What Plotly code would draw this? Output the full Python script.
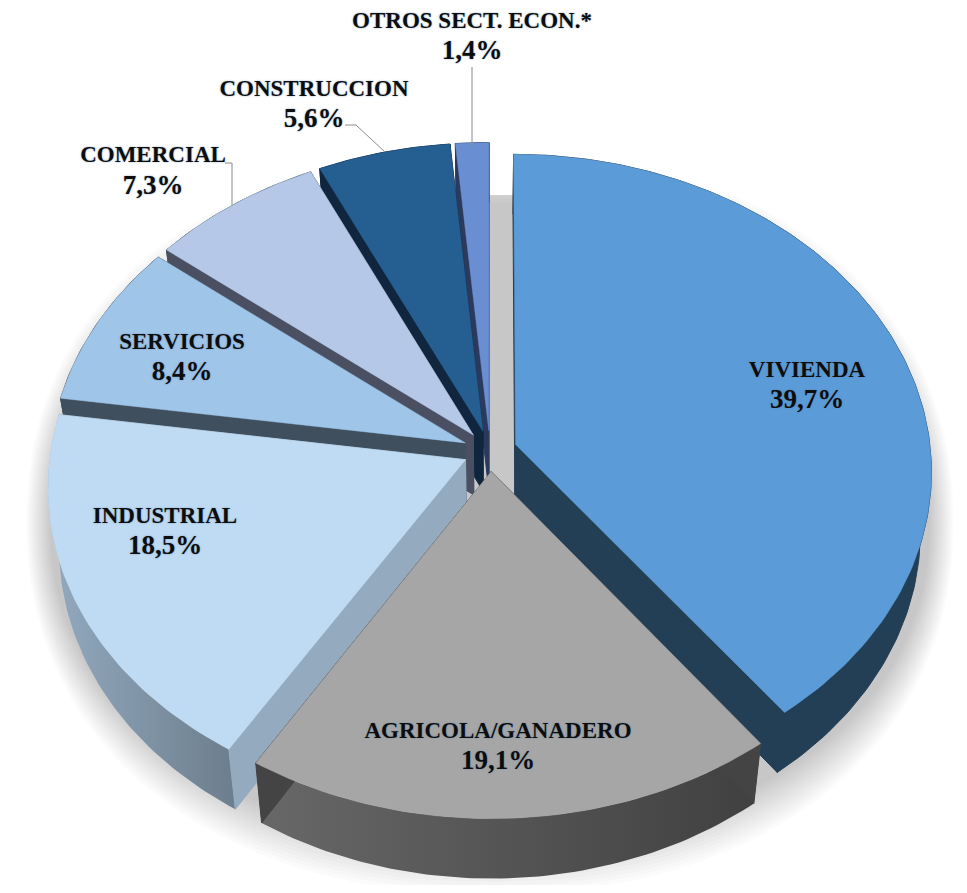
import numpy as np
import plotly.graph_objects as go

categories = ["VIVIENDA", "AGRICOLA/GANADERO", "INDUSTRIAL", "SERVICIOS", "COMERCIAL", "CONSTRUCCION", "OTROS SECT. ECON.*"]
shares = [39.7, 19.1, 18.5, 8.4, 7.3, 5.6, 1.4]
value_labels = ["39,7%", "19,1%", "18,5%", "8,4%", "7,3%", "5,6%", "1,4%"]

top_colors = ["#5b9bd7", "#a6a6a6", "#bfdbf3", "#9fc5e9", "#b5c8e8", "#255f92", "#6a8ed2"]
side_colors = ["#233f56", "#444444", "#93aabf", "#3f4f5e", "#4a5062", "#10263e", "#2b3a5c"]
rim_left = ["#233f56", "#686868", "#93aabf", "#3f4f5e", "#4a5062", "#10263e", "#2b3a5c"]
rim_right = ["#233f56", "#404040", "#6c7e8d", "#3f4f5e", "#4a5062", "#10263e", "#2b3a5c"]
draw_order = [6, 5, 4, 3, 2, 0, 1]
label_x = [807, 498, 165, 182, 153, 314, 472]
name_y = [371, 732, 517, 343, 156, 90, 22]
value_y = [401, 762, 547, 373, 187, 120, 52]
leader_x = [[345, 356, 385], [225, 232, 232], [472, 472]]
leader_y = [[125, 125, 152], [163, 163, 205], [67, 146]]

CX, CY, RX, RY, K = 490.0, 451.0, 415.0, 315.0, 0.082
EXPLODE, DEPTH, SHRINK = 0.065, 60.0, 0.975


def project(u, v, bottom=False):
    u, v = np.asarray(u, float), np.asarray(v, float)
    s = 1 / (1 - K * v)
    x = CX + RX * u * s
    y = CY + RY * v * s
    if bottom:
        x = CX + (x - CX) * SHRINK
        y = y + DEPTH
    return x, y


def poly(x, y, color=None, grad=None, width=0.5):
    kw = dict(x=np.r_[x, x[0]], y=np.r_[y, y[0]], mode="lines", fill="toself",
              line=dict(width=width, color=color or grad[0]), hoverinfo="skip", showlegend=False)
    if grad:
        kw["fillgradient"] = dict(type="horizontal", colorscale=[[0, grad[0]], [1, grad[1]]])
        kw["line"] = dict(width=0)
    else:
        kw["fillcolor"] = color
    return go.Scatter(**kw)


fig = go.Figure()

# soft ground shadow
t = np.linspace(0, 2 * np.pi, 240)
layers = np.linspace(30, -22, 14)
for g in layers:
    sx = 490 + (450 + 0.45 * g) * np.sin(t) * np.abs(np.sin(t)) ** -0.08
    sy = 522 + (342 + g) * np.cos(t) * np.abs(np.cos(t)) ** -0.08
    fig.add_trace(go.Scatter(x=sx, y=np.maximum(sy, 195), mode="lines", fill="toself",
                             fillcolor="rgba(0,0,0,0.0155)", line=dict(width=0),
                             hoverinfo="skip", showlegend=False))

edges = np.r_[0, np.cumsum(shares)] / sum(shares) * 2 * np.pi
for i in draw_order:
    a0, a1 = edges[i], edges[i + 1]
    mid = (a0 + a1) / 2
    eu, ev = EXPLODE * np.sin(mid), -EXPLODE * np.cos(mid)
    arc = np.linspace(a0, a1, max(int((a1 - a0) * 60), 6))
    u = eu + np.sin(arc)
    v = ev - np.cos(arc)
    xt, yt = project(u, v)
    xb, yb = project(u, v, bottom=True)
    if rim_left[i] == rim_right[i]:
        fig.add_trace(poly(np.r_[xt, xb[::-1]], np.r_[yt, yb[::-1]], color=rim_left[i], width=1))
    else:
        fig.add_trace(poly(np.r_[xt, xb[::-1]], np.r_[yt, yb[::-1]], grad=(rim_left[i], rim_right[i])))
    for a in (a0, a1):
        rx_, ry_ = project([eu, eu + np.sin(a)], [ev, ev - np.cos(a)])
        bx_, by_ = project([eu, eu + np.sin(a)], [ev, ev - np.cos(a)], bottom=True)
        fig.add_trace(poly(np.r_[rx_, bx_[::-1]], np.r_[ry_, by_[::-1]], color=side_colors[i], width=1))
    ax, ay = project(eu, ev)
    fig.add_trace(poly(np.r_[ax, xt], np.r_[ay, yt], color=top_colors[i]))

for lx, ly in zip(leader_x, leader_y):
    fig.add_trace(go.Scatter(x=lx, y=ly, mode="lines", line=dict(color="#8c8c8c", width=1),
                             hoverinfo="skip", showlegend=False))

halo = "0 0 2px rgba(90,130,170,0.7)"
fig.add_trace(go.Scatter(
    x=label_x, y=name_y, mode="text", text=categories, textposition="middle center",
    textfont=dict(family="Liberation Serif", size=23, color="#0d0d0d", weight="bold", shadow=halo),
    hoverinfo="skip", showlegend=False))
fig.add_trace(go.Scatter(
    x=label_x, y=value_y, mode="text", text=value_labels, textposition="middle center",
    textfont=dict(family="Liberation Serif", size=27, color="#0d0d0d", weight="bold", shadow=halo),
    hoverinfo="skip", showlegend=False))

# The page keeps an 8 px body margin, so the plot area covers pixels 8..959 / 8..885.
fig.update_layout(
    width=951, height=877, margin=dict(l=0, r=0, t=0, b=0),
    paper_bgcolor="white", plot_bgcolor="white", showlegend=False,
    xaxis=dict(range=[8, 959], visible=False, fixedrange=True),
    yaxis=dict(range=[885, 8], visible=False, fixedrange=True),
)
fig.write_html("out.html")
